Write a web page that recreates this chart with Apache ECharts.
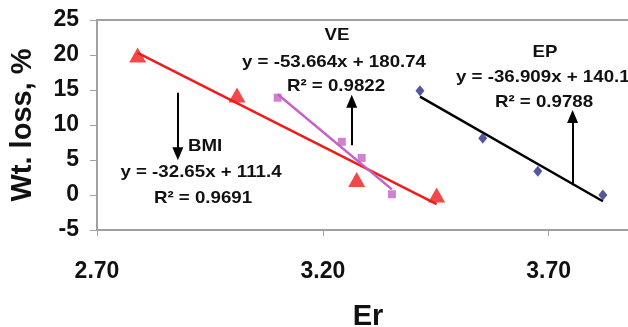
<!DOCTYPE html>
<html>
<head>
<meta charset="utf-8">
<script src="https://cdn.jsdelivr.net/npm/echarts@6/dist/echarts.min.js"></script>
<style>
  html, body { margin: 0; padding: 0; background: #fff; }
  #chart { width: 628px; height: 327px; }
</style>
</head>
<body>
<div id="chart"></div>
<script>
// Weight loss (%) versus Er for three groups, each with its linear fit
const xTicks = [2.7, 3.2, 3.7];
const yTicks = [-5, 0, 5, 10, 15, 20, 25];

const bmiEr = [2.79, 3.01, 3.275, 3.452];
const bmiLoss = [20.0, 14.3, 2.2, 0.0];

const veEr = [3.10, 3.242, 3.286, 3.353];
const veLoss = [13.9, 7.6, 5.3, 0.1];

const epEr = [3.415, 3.554, 3.676, 3.82];
const epLoss = [14.9, 8.1, 3.4, 0.0];

// Fitted lines as printed beside each group
const bmiFit = { slope: -32.65, intercept: 111.4, r2: '0.9691', eq: 'y = -32.65x + 111.4' };
const veFit = { slope: -53.664, intercept: 180.74, r2: '0.9822', eq: 'y = -53.664x + 180.74' };
const epFit = { slope: -36.909, intercept: 140.1, r2: '0.9788', eq: 'y = -36.909x + 140.1' };

// Arrow annotations: [x, yFrom, yTo]
const bmiArrow = [2.879, 14.6, 5.9];
const veArrow = [3.264, 7.1, 13.4];
const epArrow = [3.753, 1.4, 11.2];

const FONT = '"Liberation Sans", Arial, sans-serif';

function pairs(xs, ys) { return xs.map((x, i) => [x, ys[i]]); }
function fitLine(xs, fit) {
  const lo = Math.min(...xs), hi = Math.max(...xs);
  return [[lo, fit.slope * lo + fit.intercept], [hi, fit.slope * hi + fit.intercept]];
}
function arrow(a) {
  return {
    silent: true,
    animation: false,
    symbol: ['none', 'triangle'],
    symbolSize: [11, 13],
    label: { show: false },
    emphasis: { disabled: true },
    lineStyle: { color: '#000', width: 2, type: 'solid' },
    data: [[{ coord: [a[0], a[1]] }, { coord: [a[0], a[2]] }]]
  };
}

const chart = echarts.init(document.getElementById('chart'), null, { renderer: 'canvas' });

const textStyle = { fontFamily: FONT, fontWeight: 'bold', fontSize: 17, fill: '#111' };
function label(text, x, y, align) {
  return {
    type: 'text', x: x, y: y, scaleX: 1.1, silent: true,
    style: Object.assign({ text: text, align: align || 'center', verticalAlign: 'middle' }, textStyle)
  };
}

chart.setOption({
  animation: false,
  backgroundColor: '#fff',
  grid: {
    left: 97, top: 20, width: 542, height: 210,
    outerBoundsMode: 'none',
    containLabel: false,
    show: true, borderColor: '#a0a0a0', borderWidth: 2, backgroundColor: 'transparent'
  },
  xAxis: {
    type: 'value',
    min: 2.7, max: 3.9,
    name: 'Er',
    nameLocation: 'middle',
    nameGap: 72,
    nameTextStyle: { fontFamily: FONT, fontWeight: 'bold', fontSize: 29, color: '#111' },
    axisLine: { show: true, onZero: false, lineStyle: { color: '#a0a0a0', width: 2 } },
    axisTick: { show: true, length: 6, customValues: xTicks, lineStyle: { color: '#a0a0a0', width: 1 } },
    axisLabel: {
      customValues: xTicks,
      margin: 30,
      fontFamily: FONT, fontWeight: 'bold', fontSize: 23, color: '#111',
      formatter: v => Number(v).toFixed(2)
    },
    splitLine: { show: false }
  },
  yAxis: {
    type: 'value',
    min: -5, max: 25, interval: 5,
    name: 'Wt. loss, %',
    nameLocation: 'middle',
    nameGap: 60,
    nameTextStyle: { fontFamily: FONT, fontWeight: 'bold', fontSize: 29, color: '#111' },
    axisLine: { show: true, onZero: false, lineStyle: { color: '#a0a0a0', width: 2 } },
    axisTick: { show: true, inside: false, length: 7, lineStyle: { color: '#a0a0a0', width: 1 } },
    axisLabel: {
      margin: 18,
      fontFamily: FONT, fontWeight: 'bold', fontSize: 23, color: '#111',
      formatter: v => String(v)
    },
    splitLine: { show: false }
  },
  series: [
    {
      name: 'BMI fit', type: 'line', data: fitLine(bmiEr, bmiFit),
      showSymbol: false, symbol: 'none', silent: true,
      lineStyle: { color: '#ee1c1c', width: 2.5 }, z: 2,
      markLine: arrow(bmiArrow)
    },
    {
      name: 'VE fit', type: 'line', data: fitLine(veEr, veFit),
      showSymbol: false, symbol: 'none', silent: true,
      lineStyle: { color: '#c463c4', width: 2.5 }, z: 2,
      markLine: arrow(veArrow)
    },
    {
      name: 'EP fit', type: 'line', data: fitLine(epEr, epFit),
      showSymbol: false, symbol: 'none', silent: true,
      lineStyle: { color: '#000', width: 2.5 }, z: 2,
      markLine: arrow(epArrow)
    },
    {
      name: 'BMI', type: 'scatter', data: pairs(bmiEr, bmiLoss),
      symbol: 'triangle', symbolSize: [17, 15],
      itemStyle: { color: '#ee1c1c' }, z: 3
    },
    {
      name: 'VE', type: 'scatter', data: pairs(veEr, veLoss),
      symbol: 'rect', symbolSize: 8,
      itemStyle: { color: '#c463c4' }, z: 3
    },
    {
      name: 'EP', type: 'scatter', data: pairs(epEr, epLoss),
      symbol: 'diamond', symbolSize: [9, 11],
      itemStyle: { color: '#2b2d86' }, z: 3
    }
  ],
  graphic: [
    label('BMI', 188, 146, 'left'),
    label(bmiFit.eq, 201, 172),
    label('R² = ' + bmiFit.r2, 203, 198),
    label('VE', 337, 35),
    label(veFit.eq, 334, 62),
    label('R² = ' + veFit.r2, 336, 86),
    label('EP', 545, 52),
    label(epFit.eq, 456, 77, 'left'),
    label('R² = ' + epFit.r2, 544, 102)
  ]
});
</script>
</body>
</html>
